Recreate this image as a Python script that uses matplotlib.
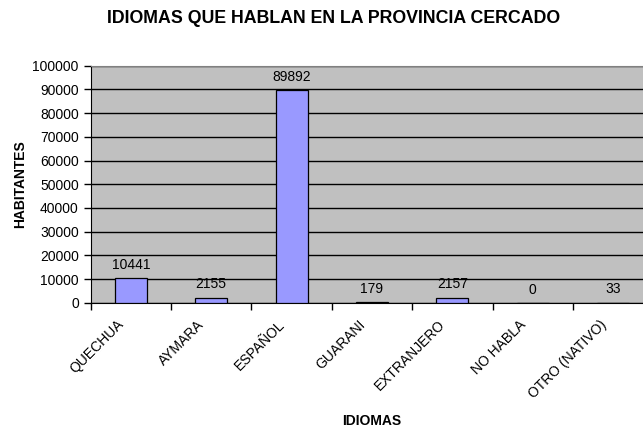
import matplotlib
matplotlib.use("Agg")
import matplotlib.pyplot as plt
import matplotlib.transforms as mtransforms
import numpy as np

plt.rcParams["font.family"] = ["Liberation Sans", "DejaVu Sans"]

IDIOMAS = ["QUECHUA", "AYMARA", "ESPAÑOL", "GUARANI", "EXTRANJERO", "NO HABLA", "OTRO (NATIVO)"]
HABITANTES = [10441, 2155, 89892, 179, 2157, 0, 33]
Y_TICKS = list(range(0, 100001, 10000))

BAR_FILL = "#9999ff"
PLOT_BG = "#c0c0c0"

fig = plt.figure(figsize=(6.43, 4.30), dpi=100)
ax = fig.add_axes([0.141, 0.296, 0.875, 0.551])
ax.set_facecolor(PLOT_BG)

x = np.arange(len(IDIOMAS))
bars = ax.bar(x, HABITANTES, width=0.4, color=BAR_FILL, edgecolor="black", linewidth=0.9, zorder=3)

for rect, val in zip(bars, HABITANTES):
    ax.annotate(
        f"{val}",
        (rect.get_x() + rect.get_width() / 2, rect.get_height()),
        xytext=(0, 9.5),
        textcoords="offset points",
        ha="center",
        va="center",
        fontsize=10,
        color="black",
        zorder=4,
    )

ax.set_xlim(-0.5, len(IDIOMAS) - 0.5)
ax.set_ylim(0, 100000)
ax.set_yticks(Y_TICKS)
ax.set_yticklabels([str(t) for t in Y_TICKS], fontsize=10)
ax.yaxis.grid(True, color="black", linewidth=1.0, zorder=1)
ax.set_axisbelow(True)

# category names sit at bar centres, tick marks at category boundaries
ax.set_xticks(x)
ax.set_xticklabels(IDIOMAS, rotation=45, ha="right", va="center", rotation_mode="anchor", fontsize=10)
ax.tick_params(axis="x", which="major", length=0, pad=14)
shift = mtransforms.ScaledTranslation(-0.09, 0, fig.dpi_scale_trans)
for lbl in ax.get_xticklabels():
    lbl.set_transform(lbl.get_transform() + shift)
ax.set_xticks(np.arange(-0.5, len(IDIOMAS), 1.0), minor=True)
ax.tick_params(axis="x", which="minor", length=5, direction="out", width=1)
ax.tick_params(axis="y", length=5, direction="out", width=1)

for side in ("top", "right"):
    ax.spines[side].set_color("#808080")
ax.spines["left"].set_color("black")
ax.spines["bottom"].set_color("black")

ax.set_ylabel("HABITANTES", fontsize=10, fontweight="bold", va="center", ha="center")
ax.yaxis.set_label_coords(-0.126, 0.5)
ax.set_xlabel("IDIOMAS", fontsize=10, fontweight="bold", va="center", ha="center")
ax.xaxis.set_label_coords(0.5, -0.5)

fig.text(0.519, 0.958, "IDIOMAS QUE HABLAN EN LA PROVINCIA CERCADO",
         ha="center", va="center", fontsize=12.8, fontweight="bold")

fig.savefig("out.png", dpi=100, facecolor="white")
